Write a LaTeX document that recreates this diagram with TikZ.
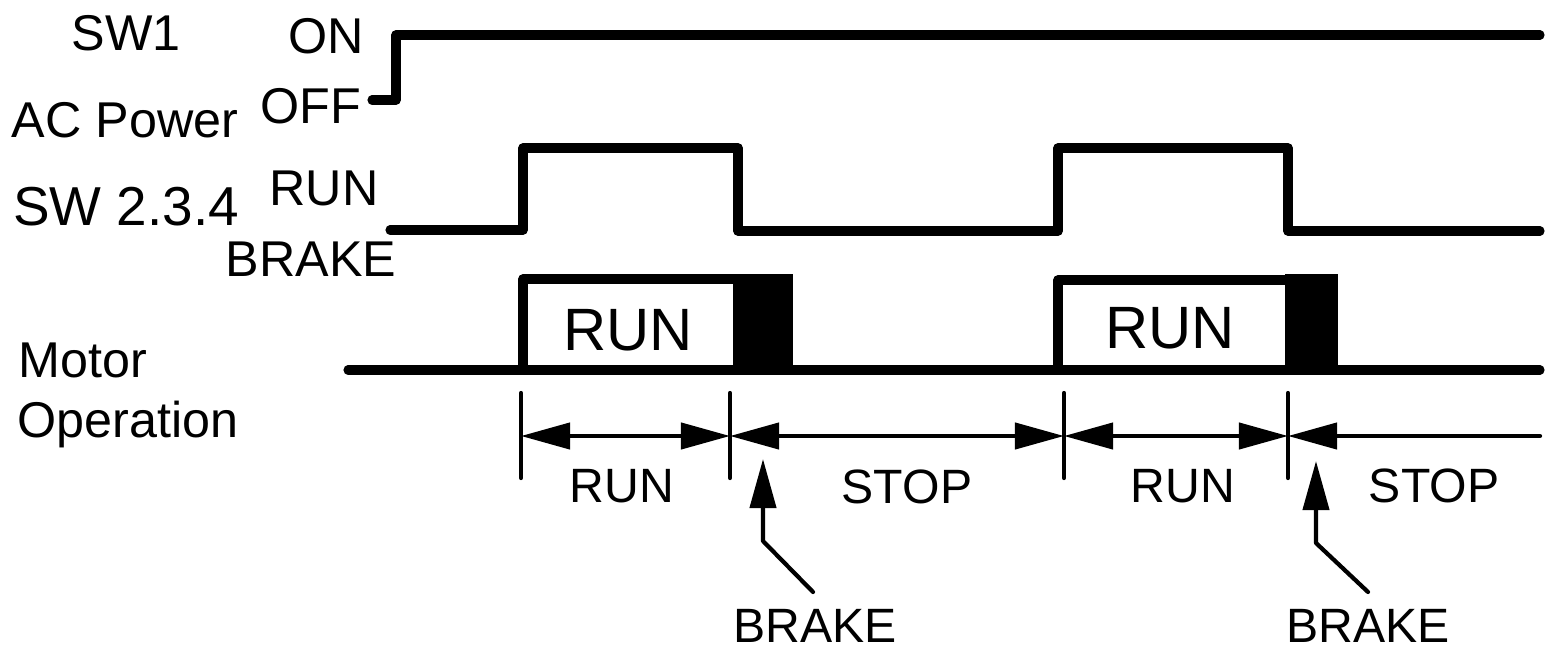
\documentclass[tikz,border=0pt]{standalone}
\usepackage{fontspec}
\setmainfont{Liberation Sans}
\usetikzlibrary{arrows.meta}

\begin{document}
\begin{tikzpicture}[x=0.01cm,y=-0.01cm,
  sig/.style={line width=2.6pt,line join=round,line cap=round},
  dim/.style={line width=1.2pt,line cap=round},
  dtip/.tip={Triangle[length=0.49cm,width=0.26cm]},
  lbl/.style={anchor=base,inner sep=0pt,font=\fontsize{14.3}{17}\selectfont},
  dlbl/.style={lbl,font=\fontsize{13.7}{16}\selectfont}]
  \useasboundingbox (0,0) rectangle (1545,648);
  % left hand labels
  \node[lbl](sw1) at (126,50){SW1};
  \node[lbl](on) at (326,53){ON};
  \node[lbl](off) at (311,123){OFF};
  \node[lbl](acp) at (125,137){AC Power};
  \node[lbl,font=\fontsize{15.6}{18}\selectfont](sw) at (126,225){SW 2.3.4};
  \node[lbl](run) at (324,205){RUN};
  \node[lbl](brk) at (311,276){BRAKE};
  \node[lbl,anchor=base west](mot) at (18,377){Motor};
  \node[lbl,anchor=base west](oper) at (17,437){Operation};
  % signals
  \draw[sig](372,100)--(396,100)--(396,35)--(1540,35);
  \draw[sig](390,230)--(523,230)--(523,148)--(738,148)--(738,231)--(1058,231)
    --(1058,148)--(1288,148)--(1288,231)--(1540,231);
  \draw[sig](523,370)--(523,279)--(736,279);
  \draw[sig](1058,370)--(1058,280)--(1288,280);
  \fill(733,274) rectangle (793,372);
  \fill(1285,274) rectangle (1338,372);
  \draw[sig](348,370)--(1540,370);
  \node[lbl,font=\fontsize{17}{20}\selectfont](box1) at (628,350){RUN};
  \node[lbl,font=\fontsize{17}{20}\selectfont](box2) at (1170,348){RUN};
  % time spans
  \foreach \x in {521,730,1064,1288} \draw[dim](\x,393)--(\x,478);
  \draw[dim,dtip-dtip](521,436)--(730,436);
  \draw[dim,dtip-dtip](730,436)--(1064,436);
  \draw[dim,dtip-dtip](1064,436)--(1288,436);
  \draw[dim,dtip-](1288,436)--(1540,436);
  \node[dlbl](t1) at (622,502){RUN};
  \node[dlbl](t2) at (907,503){STOP};
  \node[dlbl](t3) at (1183,502){RUN};
  \node[dlbl](t4) at (1434,502){STOP};
  % brake pointers
  \node[dlbl](b1) at (815,642){BRAKE};
  \node[dlbl](b2) at (1368,642){BRAKE};
  \draw[dim,line join=round,-dtip](813,592)--(763,541)--(763,459);
  \draw[dim,line join=round,-dtip](1368,592)--(1316,543)--(1316,461);
\end{tikzpicture}
\end{document}
